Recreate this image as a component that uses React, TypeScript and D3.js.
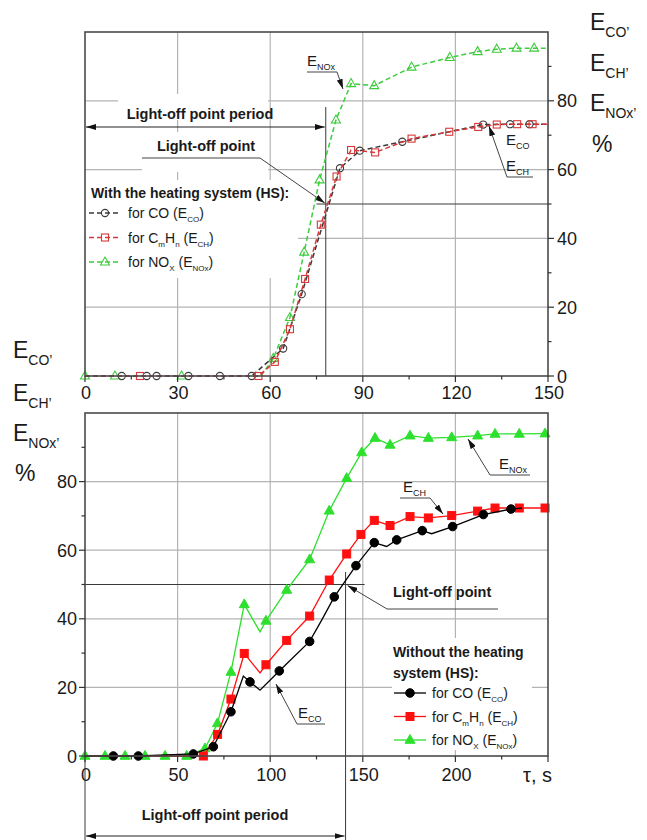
import React from 'react';
import * as d3 from 'd3';

type Pt = [number, number, number?]; // [time, value, marker(0 = none)]

// ---------- Top panel: with the heating system (HS) ----------
const coHS: Pt[] = [[0, 0, 0], [11.9, 0], [20, 0], [23.2, 0], [33.5, 0], [43.7, 0], [54, 0], [64.2, 8], [70.2, 23.8], [76, 41, 0], [82.6, 60.4], [89, 65.5], [102.8, 68.1], [129, 73.1], [137.7, 73.2], [144, 73.2], [150, 73.2, 0]];
const chHS: Pt[] = [[0, 0, 0], [17.8, 0], [56.2, 0], [61.5, 4.1], [66.4, 13.6], [71.3, 28.2], [76.4, 44], [81.5, 58], [86.2, 65.7], [94, 65], [105.8, 69], [118, 71], [127.4, 72.4], [133.4, 73.1], [140, 73.2], [145, 73.2], [150, 73.2, 0]];
const noxHS: Pt[] = [[0, 0], [9.7, 0], [31.3, 0], [57, 0, 0], [61, 5.1], [66.4, 17], [71, 36], [76, 57], [81.3, 74.4], [86.2, 85], [93.7, 84.4], [105.8, 89.8], [118.2, 92.6], [127.2, 94.3], [133.4, 95], [139.8, 95.3], [145.5, 95.3], [150, 95.3, 0]];

// ---------- Bottom panel: without the heating system ----------
const coNoHS: Pt[] = [[0, 0, 0], [15.3, 0], [28.8, 0], [58.5, 0.6], [69.3, 2.7], [78.8, 12.9], [85.5, 23.3, 0], [89.1, 21.6], [94.5, 19.2, 0], [104.9, 24.8], [121.3, 33.4], [127.8, 39.6, 0], [134.6, 46.4], [146.3, 55.5], [156.2, 62.2], [162.9, 61.1, 0], [168.3, 63], [182.1, 65.7], [187.2, 64.8, 0], [198.5, 66.9], [215.1, 70.4], [230, 72], [236, 72.3, 0]];
const chNoHS: Pt[] = [[0, 0, 0], [63.9, 0], [71.6, 6.3], [78.8, 16.6], [86, 29.9], [94.5, 24.2, 0], [97.7, 26.6], [108.9, 33.7], [121.3, 40.8], [131.9, 51.3], [141.3, 58.9], [149, 64.6], [156.2, 68.7], [164.7, 67.2], [175.5, 69.8], [185.4, 69.4], [198, 70.1], [212, 71.4], [221.4, 72.3], [234.5, 72.3], [248.4, 72.3]];
const noxNoHS: Pt[] = [[0, 0], [10.8, 0], [21.6, 0], [32.4, 0], [43.2, 0], [54.9, 0], [64.8, 2.2], [71.5, 9.5], [78.8, 24.5], [86, 44.2], [94.5, 36.2, 0], [97.7, 39.4], [108.9, 48.4], [121.3, 57.3], [131.9, 71.5], [141.3, 81], [149.4, 88.5], [156.6, 92.7], [164.7, 90.7], [175.5, 93.4], [185.4, 92.7], [198, 92.9], [212, 93.4], [221.4, 93.9], [234.5, 93.9], [248.4, 94]];

const xTopTicks = [0, 30, 60, 90, 120, 150];
const xTopMinor = [15, 45, 75, 105, 135];
const yTopTicks = [0, 20, 40, 60, 80];
const yMinor = [10, 30, 50, 70, 90];
const xBotTicks = [0, 50, 100, 150, 200];
const xBotMinor = [25, 75, 125, 175, 225];
const yBotTicks = [0, 20, 40, 60, 80];
const gridTopX = [30, 60, 90, 120];
const gridBotX = [50, 100, 150, 200];
const gridY = [20, 40, 60, 80];
const lightOffHS = 78;
const lightOffNoHS = 140.7;
const lightOffLevel = 50;

const FONT = 'Liberation Sans, Arial, sans-serif';
const xT = d3.scaleLinear().domain([0, 150]).range([85, 548]);
const yT = d3.scaleLinear().domain([0, 100]).range([376, 32]);
const xB = d3.scaleLinear().domain([0, 250]).range([85, 548]);
const yB = d3.scaleLinear().domain([0, 100]).range([756, 413]);

type Seg = [string, boolean?];
function Rich({ x, y, segs, size, sub, anchor = 'start', weight = 'normal', shift = 4 }: any) {
  let inSub = false;
  return (
    <text x={x} y={y} fontSize={size} textAnchor={anchor} fontWeight={weight} fontFamily={FONT} fill="#1a1a1a">
      {segs.map(([s, isSub]: Seg, i: number) => {
        let dy = 0;
        if (isSub && !inSub) dy = shift;
        if (!isSub && inSub) dy = -shift;
        inSub = !!isSub;
        return (
          <tspan key={i} dy={dy} fontSize={isSub ? sub : size}>{s}</tspan>
        );
      })}
    </text>
  );
}

function marker(kind: string, x: number, y: number, color: string, filled: boolean, key: any) {
  const fill = filled ? color : 'none';
  const sw = filled ? 1 : 1.1;
  if (kind === 'circle') return <circle key={key} cx={x} cy={y} r={filled ? 4.3 : 3.6} fill={fill} stroke={color} strokeWidth={sw} />;
  if (kind === 'square') { const s = filled ? 8 : 7; return <rect key={key} x={x - s / 2} y={y - s / 2} width={s} height={s} fill={fill} stroke={color} strokeWidth={sw} />; }
  const h = filled ? 5.5 : 5;
  const w = filled ? 5 : 4.5;
  return <path key={key} d={`M${x},${y - h}L${x + w},${y + h * 0.6}L${x - w},${y + h * 0.6}Z`} fill={fill} stroke={color} strokeWidth={sw} />;
}

function Series({ data, xs, ys, color, kind, dashed, filled }: any) {
  const line = d3.line<Pt>().x(d => xs(d[0])).y(d => ys(d[1]));
  return (
    <g>
      <path d={line(data) || ''} fill="none" stroke={color} strokeWidth={dashed ? 1.5 : 1.3} strokeDasharray={dashed ? '5,3' : undefined} />
      {data.filter((d: Pt) => d[2] !== 0).map((d: Pt, i: number) => marker(kind, xs(d[0]), ys(d[1]), color, filled, i))}
    </g>
  );
}

const GRID = '#b4b4b4';
const DARK = '#3a3a3a';

export default function App() {
  const topColors = { co: '#3a3a3a', ch: '#d8383a', nox: '#3ccc3c' };
  const botColors = { co: '#000000', ch: '#ff1010', nox: '#2ee02e' };
  const legendTop = [
    { kind: 'circle', color: topColors.co, segs: [['for CO (E'], ['CO', true], [')']] },
    { kind: 'square', color: topColors.ch, segs: [['for C'], ['m', true], ['H'], ['n', true], [' (E'], ['CH', true], [')']] },
    { kind: 'triangle', color: topColors.nox, segs: [['for NO'], ['X', true], [' (E'], ['NOx', true], [')']] },
  ];
  const legendBot = [
    { kind: 'circle', color: botColors.co, segs: [['for CO (E'], ['CO', true], [')']] },
    { kind: 'square', color: botColors.ch, segs: [['for C'], ['m', true], ['H'], ['n', true], [' (E'], ['CH', true], [')']] },
    { kind: 'triangle', color: botColors.nox, segs: [['for NO'], ['X', true], [' (E'], ['NOx', true], [')']] },
  ];
  return (
    <svg width={647} height={840} style={{ position: 'absolute', left: 0, top: 0, background: '#fff' }} fontFamily={FONT}>
      <defs>
        <marker id="arr" viewBox="0 0 10 6" refX="10" refY="3" markerWidth="10" markerHeight="6" markerUnits="userSpaceOnUse" orient="auto-start-reverse">
          <path d="M0,0L10,3L0,6Z" fill="#111" />
        </marker>
      </defs>
      <rect x={0} y={0} width={647} height={840} fill="#fff" />

      {/* ================= TOP PANEL ================= */}
      <g>
        {gridTopX.map(v => <line key={'gx' + v} x1={xT(v)} x2={xT(v)} y1={yT(100)} y2={yT(0)} stroke={GRID} strokeWidth={1.2} />)}
        {gridY.map(v => <line key={'gy' + v} x1={xT(0)} x2={xT(150)} y1={yT(v)} y2={yT(v)} stroke={GRID} strokeWidth={1.2} />)}
        {/* text backgrounds */}
        <rect x={118} y={94} width={150} height={26} fill="#fff" />
        <rect x={142} y={132} width={126} height={40} fill="#fff" />
        <rect x={86} y={180} width={212} height={98} fill="#fff" />

        {/* light-off constructions */}
        <line x1={xT(lightOffHS)} x2={xT(lightOffHS)} y1={107} y2={yT(0)} stroke={DARK} strokeWidth={1} />
        <line x1={xT(lightOffHS - 3)} x2={xT(150)} y1={yT(lightOffLevel)} y2={yT(lightOffLevel)} stroke={DARK} strokeWidth={1.2} />
        <line x1={xT(0) + 1} x2={xT(lightOffHS) - 1} y1={127} y2={127} stroke="#222" strokeWidth={1} markerStart="url(#arr)" markerEnd="url(#arr)" />
        <polyline points={`142,158 260,158 ${xT(lightOffHS) - 1},${yT(lightOffLevel) - 1}`} fill="none" stroke="#444" strokeWidth={1} markerEnd="url(#arr)" />

        <Series data={noxHS} xs={xT} ys={yT} color={topColors.nox} kind="triangle" dashed />
        <Series data={coHS} xs={xT} ys={yT} color={topColors.co} kind="circle" dashed />
        <Series data={chHS} xs={xT} ys={yT} color={topColors.ch} kind="square" dashed />

        {/* E labels */}
        <polyline points={`307,72 337,72 343,89`} fill="none" stroke="#444" strokeWidth={1} markerEnd="url(#arr)" />
        <Rich x={307} y={66} segs={[['E'], ['NOx', true]]} size={15} sub={9} />
        <polyline points={`533,177 507,177 489,126`} fill="none" stroke="#444" strokeWidth={1} markerEnd="url(#arr)" />
        <Rich x={506} y={145} segs={[['E'], ['CO', true]]} size={15} sub={9} />
        <Rich x={506} y={171} segs={[['E'], ['CH', true]]} size={15} sub={9} />

        <text x={200} y={119} fontSize={14.5} fontWeight="bold" textAnchor="middle" fill="#1a1a1a">Light-off point  period</text>
        <text x={206} y={151} fontSize={14.5} fontWeight="bold" textAnchor="middle" fill="#1a1a1a">Light-off point</text>

        {/* legend */}
        <text x={91} y={198} fontSize={14} fontWeight="bold" fill="#1a1a1a">With the heating system (HS):</text>
        {legendTop.map((l, i) => {
          const y = 213 + i * 24.5;
          return (
            <g key={'lt' + i}>
              <line x1={89} x2={121} y1={y} y2={y} stroke={l.color} strokeWidth={1.5} strokeDasharray="5,3" />
              {marker(l.kind, 105, y, l.color, false, 'm')}
              <Rich x={128} y={y + 5} segs={l.segs} size={14} sub={8} />
            </g>
          );
        })}

        {/* frame and axes */}
        <rect x={xT(0)} y={yT(100)} width={xT(150) - xT(0)} height={yT(0) - yT(100)} fill="none" stroke="#4a4a4a" strokeWidth={1.6} />
        {xTopTicks.map(v => <line key={'xt' + v} x1={xT(v)} x2={xT(v)} y1={yT(0)} y2={yT(0) + 6} stroke="#333" strokeWidth={1.2} />)}
        {xTopMinor.map(v => <line key={'xm' + v} x1={xT(v)} x2={xT(v)} y1={yT(0)} y2={yT(0) + 3.5} stroke="#333" strokeWidth={1.2} />)}
        {yTopTicks.map(v => <line key={'yt' + v} x1={xT(150)} x2={xT(150) + 6} y1={yT(v)} y2={yT(v)} stroke="#333" strokeWidth={1.2} />)}
        {yMinor.map(v => <line key={'ym' + v} x1={xT(150)} x2={xT(150) + 3.5} y1={yT(v)} y2={yT(v)} stroke="#333" strokeWidth={1.2} />)}
        {xTopTicks.map(v => <text key={'xl' + v} x={xT(v) + 1} y={yT(0) + 23} fontSize={18} textAnchor="middle" fill="#1a1a1a">{v}</text>)}
        {yTopTicks.map(v => <text key={'yl' + v} x={xT(150) + 9} y={yT(v) + 6.5} fontSize={18} fill="#1a1a1a">{v}</text>)}

        <Rich x={590} y={30} segs={[['E'], ['CO’', true]]} size={23} sub={14} shift={7} />
        <Rich x={590} y={71} segs={[['E'], ['CH’', true]]} size={23} sub={14} shift={7} />
        <Rich x={590} y={111} segs={[['E'], ['NOx’', true]]} size={23} sub={14} shift={7} />
        <text x={592} y={152} fontSize={23} fill="#1a1a1a">%</text>
      </g>

      {/* ================= BOTTOM PANEL ================= */}
      <g>
        {gridBotX.map(v => <line key={'bgx' + v} x1={xB(v)} x2={xB(v)} y1={yB(100)} y2={yB(0)} stroke={GRID} strokeWidth={1.2} />)}
        {gridY.map(v => <line key={'bgy' + v} x1={xB(0)} x2={xB(250)} y1={yB(v)} y2={yB(v)} stroke={GRID} strokeWidth={1.2} />)}
        <rect x={392} y={638} width={140} height={112} fill="#fff" />

        {/* light-off constructions */}
        <line x1={xB(0)} x2={xB(151)} y1={yB(lightOffLevel)} y2={yB(lightOffLevel)} stroke={DARK} strokeWidth={1} />
        <line x1={xB(lightOffNoHS)} x2={xB(lightOffNoHS)} y1={572} y2={840} stroke={DARK} strokeWidth={1} />
        <line x1={xB(0)} x2={xB(0)} y1={yB(0)} y2={840} stroke={DARK} strokeWidth={1} />
        <line x1={xB(0) + 1} x2={xB(lightOffNoHS) - 1} y1={836} y2={836} stroke="#222" strokeWidth={1} markerStart="url(#arr)" markerEnd="url(#arr)" />
        <polyline points={`498,609 387,609 ${xB(lightOffNoHS) + 2},${yB(lightOffLevel) + 1}`} fill="none" stroke="#444" strokeWidth={1} markerEnd="url(#arr)" />

        <Series data={noxNoHS} xs={xB} ys={yB} color={botColors.nox} kind="triangle" filled />
        <Series data={chNoHS} xs={xB} ys={yB} color={botColors.ch} kind="square" filled />
        <Series data={coNoHS} xs={xB} ys={yB} color={botColors.co} kind="circle" filled />

        {/* E labels */}
        <polyline points={`325,724 297,724 276,684`} fill="none" stroke="#444" strokeWidth={1} markerEnd="url(#arr)" />
        <Rich x={298} y={718} segs={[['E'], ['CO', true]]} size={15} sub={9} />
        <polyline points={`400,498 430,498 443,514`} fill="none" stroke="#444" strokeWidth={1} markerEnd="url(#arr)" />
        <Rich x={403} y={492} segs={[['E'], ['CH', true]]} size={15} sub={9} />
        <polyline points={`530,475 490,475 468,439`} fill="none" stroke="#444" strokeWidth={1} markerEnd="url(#arr)" />
        <Rich x={499} y={469} segs={[['E'], ['NOx', true]]} size={15} sub={9} />

        <text x={393} y={597} fontSize={14.5} fontWeight="bold" fill="#1a1a1a">Light-off point</text>

        {/* legend */}
        <text x={393} y={657} fontSize={14} fontWeight="bold" fill="#1a1a1a">Without the heating</text>
        <text x={393} y={678} fontSize={14} fontWeight="bold" fill="#1a1a1a">system (HS):</text>
        {legendBot.map((l, i) => {
          const y = 693 + i * 23.5;
          return (
            <g key={'lb' + i}>
              <line x1={394} x2={426} y1={y} y2={y} stroke={l.color} strokeWidth={1.3} />
              {marker(l.kind, 410, y, l.color, true, 'm')}
              <Rich x={432} y={y + 5} segs={l.segs} size={14} sub={8} />
            </g>
          );
        })}

        {/* frame and axes */}
        <rect x={xB(0)} y={yB(100)} width={xB(250) - xB(0)} height={yB(0) - yB(100)} fill="none" stroke="#4a4a4a" strokeWidth={1.6} />
        {[...xBotTicks, 250].map(v => <line key={'bxt' + v} x1={xB(v)} x2={xB(v)} y1={yB(0)} y2={yB(0) + 6} stroke="#333" strokeWidth={1.2} />)}
        {xBotMinor.map(v => <line key={'bxm' + v} x1={xB(v)} x2={xB(v)} y1={yB(0)} y2={yB(0) + 3.5} stroke="#333" strokeWidth={1.2} />)}
        {yBotTicks.map(v => <line key={'byt' + v} x1={xB(0) - 6} x2={xB(0)} y1={yB(v)} y2={yB(v)} stroke="#333" strokeWidth={1.2} />)}
        {yMinor.map(v => <line key={'bym' + v} x1={xB(0) - 3.5} x2={xB(0)} y1={yB(v)} y2={yB(v)} stroke="#333" strokeWidth={1.2} />)}
        {xBotTicks.map(v => <text key={'bxl' + v} x={xB(v) + 1} y={yB(0) + 25} fontSize={18} textAnchor="middle" fill="#1a1a1a">{v}</text>)}
        {yBotTicks.map(v => <text key={'byl' + v} x={xB(0) - 8} y={yB(v) + 6.5} fontSize={18} textAnchor="end" fill="#1a1a1a">{v}</text>)}
        <text x={523} y={782} fontSize={20} fill="#1a1a1a">τ, s</text>

        <text x={215} y={820} fontSize={14.5} fontWeight="bold" textAnchor="middle" fill="#1a1a1a">Light-off point period</text>

        <Rich x={13} y={358} segs={[['E'], ['CO’', true]]} size={23} sub={14} shift={7} />
        <Rich x={13} y={401} segs={[['E'], ['CH’', true]]} size={23} sub={14} shift={7} />
        <Rich x={13} y={441} segs={[['E'], ['NOx’', true]]} size={23} sub={14} shift={7} />
        <text x={15} y={481} fontSize={23} fill="#1a1a1a">%</text>
      </g>
    </svg>
  );
}
